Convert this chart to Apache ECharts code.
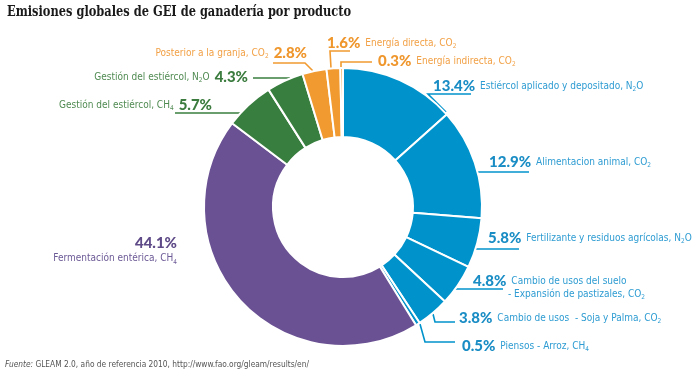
<!DOCTYPE html>
<html><head><meta charset="utf-8">
<script src="https://cdn.jsdelivr.net/npm/echarts@6/dist/echarts.min.js"></script>
<style>html,body{margin:0;padding:0;background:#fff}#c{width:695px;height:392px}</style>
</head><body><div id="c"></div>
<script>
// ---- data ----
const titleText = 'Emisiones globales de GEI de ganadería por producto';
const sourceText = 'GLEAM 2.0, año de referencia 2010, http://www.fao.org/gleam/results/en/';
const categories = [
  'Estiércol aplicado y depositado, N_2O',
  'Alimentacion animal, CO_2',
  'Fertilizante y residuos agrícolas, N_2O',
  'Cambio de usos del suelo\n- Expansión de pastizales, CO_2',
  'Cambio de usos  - Soja y Palma, CO_2',
  'Piensos - Arroz, CH_4',
  'Fermentación entérica, CH_4',
  'Gestión del estiércol, CH_4',
  'Gestión del estiércol, N_2O',
  'Posterior a la granja, CO_2',
  'Energía directa, CO_2',
  'Energía indirecta, CO_2'
];
const values = [13.4, 12.9, 5.8, 4.8, 3.8, 0.5, 44.1, 5.7, 4.3, 2.8, 1.6, 0.3];
const groups = ['B','B','B','B','B','B','P','G','G','O','O','O'];

// ---- styles / layout ----
const palette = {
  B: {slice:'#0093CB', pct:'#1A8DC5', name:'#2E9CD2'},
  P: {slice:'#6A5193', pct:'#5F4B88', name:'#6C5A96'},
  G: {slice:'#387E3E', pct:'#3B7C3E', name:'#4F8A51'},
  O: {slice:'#F19A2F', pct:'#EF962C', name:'#F2A045'}
};
const NAME_FONT = '"Liberation Sans Narrow","DejaVu Sans Condensed",sans-serif';
const PCT_FONT = 'Lato,"Noto Sans",sans-serif';
// label anchor [x, y, align] and leader line points, per slice (layout only)
const labelPos = [
  [433, 86, 'left'], [489, 162, 'left'], [488, 238, 'left'], [473, 287.5, 'left'],
  [459, 318, 'left'], [462, 346, 'left'], [177, 250.5, 'right'], [212, 105, 'right'],
  [248, 77, 'right'], [307, 53, 'right'], [327, 43, 'left'], [378, 61, 'left']
];
const leaderPts = [
  [[446,112],[428,94],[471,94]],
  [[478,172],[503,172],[529,172]],
  [[476,249],[497,249],[519,249]],
  [[455,289],[478,289],[503,289]],
  [[433,314],[435,322],[455,322]],
  [[420,324],[425,342],[455,342]],
  null,
  [[240,113],[200,113],[175,113]],
  [[290,78],[270,78],[253,78]],
  [[313,71],[305,63],[273,63]],
  [[331,68],[330,51],[350,51]],
  [[341,68],[341,62],[372,62]]
];

const rich = {sp: {width: 35, lineHeight: 13}, gap: {width: 5, lineHeight: 13}};
Object.keys(palette).forEach(function (g) {
  rich['p' + g] = {fontFamily: PCT_FONT, fontWeight: 900, fontSize: 15, color: palette[g].pct, lineHeight: 13};
  rich['n' + g] = {fontFamily: NAME_FONT, fontSize: 10, color: palette[g].name, lineHeight: 13};
  rich['s' + g] = {fontFamily: NAME_FONT, fontSize: 6.5, color: palette[g].name, lineHeight: 8, verticalAlign: 'bottom'};
});
rich.pP.lineHeight = 15; rich.nP.lineHeight = 15;

function nameRich(line, g) {
  const parts = line.split(/_(\d)/);
  let out = '';
  parts.forEach(function (p, i) {
    if (!p) return;
    out += (i % 2 === 1) ? '{s' + g + '|' + p + '}' : '{n' + g + '|' + p + '}';
  });
  return out;
}

function fmt(params) {
  const i = params.dataIndex, g = groups[i];
  const pct = values[i].toFixed(1) + '%';
  const lines = categories[i].split('\n');
  const align = labelPos[i][2];
  if (g === 'P') {
    return '{p' + g + '|' + pct + '}\n' + nameRich(lines[0], g);
  }
  if (align === 'right') {
    return nameRich(lines[0], g) + '{gap|}{p' + g + '|' + pct + '}';
  }
  let s = '{p' + g + '|' + pct + '}{gap|}' + nameRich(lines[0], g);
  for (let k = 1; k < lines.length; k++) s += '\n{sp|}' + nameRich(lines[k], g);
  return s;
}

const chart = echarts.init(document.getElementById('c'), null, {renderer: 'canvas'});
chart.setOption({
  backgroundColor: '#fff',
  animation: false,
  graphic: [{
    type: 'text', x: 7, y: 5, scaleX: 0.815, silent: true,
    style: {text: titleText, fontFamily: '"DejaVu Serif",serif', fontWeight: 'bold', fontSize: 14,
      fill: '#1a1a1a', verticalAlign: 'top'}
  }],
  title: [
    {text: '{i|Fuente:} ' + sourceText, left: 5, top: 361, padding: 0,
     textStyle: {fontFamily: NAME_FONT, fontSize: 8.3, fontWeight: 'normal', color: '#555',
       rich: {i: {fontFamily: NAME_FONT, fontSize: 8.3, fontWeight: 'normal', fontStyle: 'italic', color: '#555'}}}}
  ],
  series: [{
    type: 'pie',
    center: [343, 207],
    radius: [70, 139],
    startAngle: 90,
    clockwise: true,
    avoidLabelOverlap: false,
    minShowLabelAngle: 0,
    itemStyle: {borderColor: '#fff', borderWidth: 2},
    label: {show: true, position: 'outside', formatter: fmt, rich: rich},
    labelLine: {show: true, lineStyle: {width: 1.6}},
    emphasis: {disabled: true},
    labelLayout: function (params) {
      const i = params.dataIndex, p = labelPos[i];
      const r = {x: p[0], y: p[1], align: p[2], verticalAlign: 'middle'};
      if (leaderPts[i]) r.labelLinePoints = leaderPts[i];
      return r;
    },
    data: values.map(function (v, i) {
      const d = {value: v, name: categories[i], itemStyle: {color: palette[groups[i]].slice}};
      if (!leaderPts[i]) d.labelLine = {show: false};
      return d;
    })
  }]
});
</script></body></html>
